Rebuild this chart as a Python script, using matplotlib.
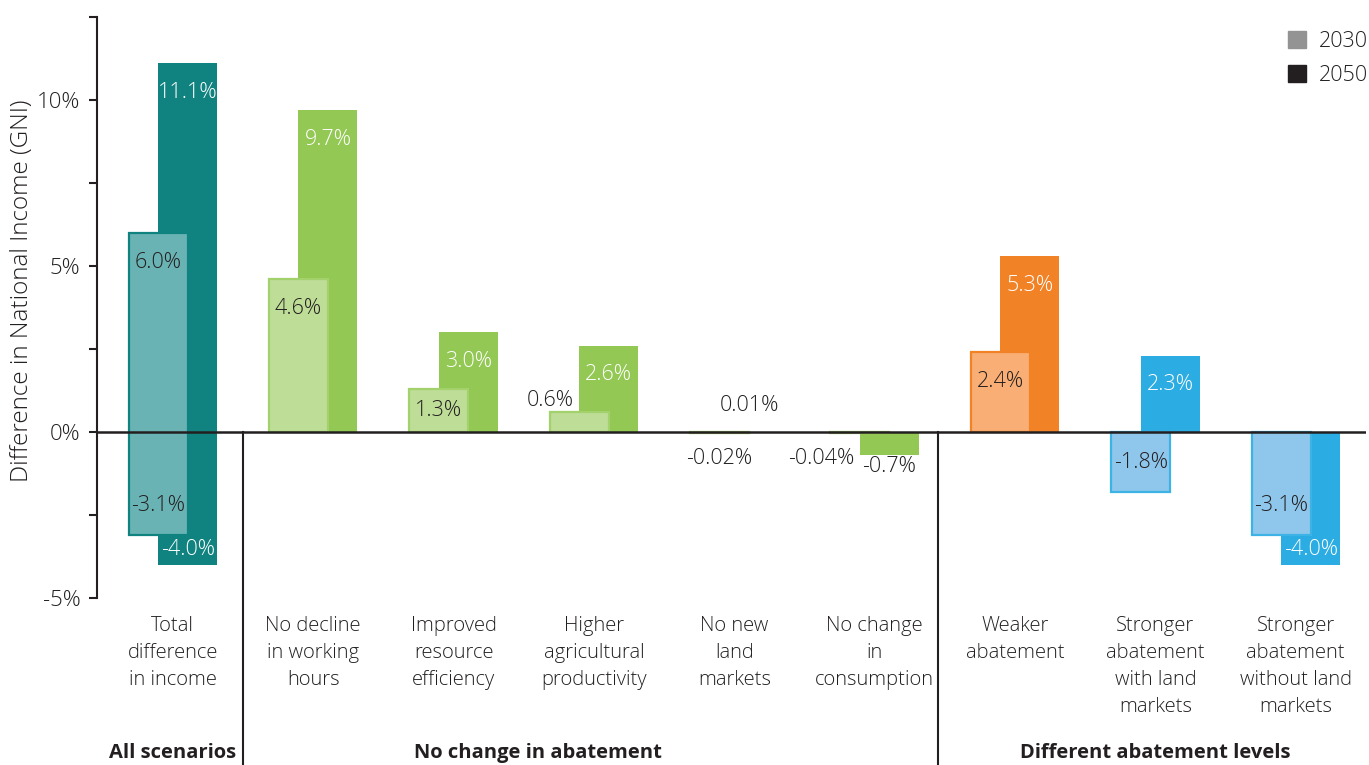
import matplotlib
matplotlib.use('Agg')
import matplotlib.pyplot as plt
from matplotlib.patches import Patch
import numpy as np

plt.rcParams['font.family'] = ['Open Sans', 'DejaVu Sans']
plt.rcParams['font.weight'] = 'light'

# Scenarien und Werte (in % des GNI)
categories = ['Total\ndifference\nin income', 'No decline\nin working\nhours',
              'Improved\nresource\nefficiency', 'Higher\nagricultural\nproductivity',
              'No new\nland\nmarkets', 'No change\nin\nconsumption',
              'Weaker\nabatement', 'Stronger\nabatement\nwith land\nmarkets',
              'Stronger\nabatement\nwithout land\nmarkets']

hi_2030 = [6.0, 4.6, 1.3, 0.6, 0, 0, 2.4, 0, 0]
lo_2030 = [-3.1, 0, 0, 0, -0.02, -0.04, 0, -1.8, -3.1]
hi_2050 = [11.1, 9.7, 3.0, 2.6, 0.01, 0, 5.3, 2.3, 0]
lo_2050 = [-4.0, 0, 0, 0, 0, -0.7, 0, 0, -4.0]

groups = ['All scenarios', 'No change in abatement', 'Different abatement levels']
group_x = [0, 2.6, 7]
separators = [0.5, 5.45]

# Farben: (2050, 2030 Fuellung, 2030 Rand)
teal = ('#10827F', '#6AB3B4', '#10827F')
green = ('#92C853', '#BEDD97', '#A3D16C')
orange = ('#F28226', '#F8AE74', '#F28226')
blue = ('#2BACE2', '#8FC7EC', '#3DB2E4')
colors = [teal, green, green, green, green, green, orange, blue, blue]
dark = '#231F20'

x = np.arange(len(categories))
w = 0.42
off = 0.105

fig = plt.figure(figsize=(13.69, 7.65), dpi=100)
ax = fig.add_axes([97 / 1369, 167 / 765, 1269 / 1369, 581 / 765])

hi30 = np.array(hi_2030); lo30 = np.array(lo_2030)
hi50 = np.array(hi_2050); lo50 = np.array(lo_2050)

ax.bar(x + off, hi50 - lo50, bottom=lo50, width=w,
       color=[c[0] for c in colors], zorder=2)
ax.bar(x - off, hi30 - lo30, bottom=lo30, width=w,
       color=[c[1] for c in colors], edgecolor=[c[2] for c in colors],
       linewidth=1.6, zorder=3)

ax.axhline(0, color=dark, lw=1.8, zorder=5)


def fmt(v):
    return ('%.2f%%' % v) if abs(v) < 0.1 else ('%.1f%%' % v)


def label(i, v, is30):
    if v == 0:
        return
    s = 1 if v > 0 else -1
    xc = i - off if is30 else i + off
    fs = 15.5
    if abs(v) >= 1:
        y = v - s * 0.88
        if abs(v) < 1.76:
            y = v / 2
        if not is30:
            e = hi30[i] if s > 0 else lo30[i]
            if abs(y) < abs(e) + 0.45:
                y = (v + e) / 2
        ax.text(xc, y, fmt(v), ha='center', va='center', fontsize=fs,
                color=dark if is30 else 'white', zorder=6)
    else:
        y = s * max(abs(v) + 0.35, 0.8)
        other = hi50[i] if s > 0 else lo50[i]
        if is30 and abs(other) > abs(v):
            ax.text(i + off - w / 2 - 0.04, y, fmt(v), ha='right', va='center',
                    fontsize=fs, color=dark, zorder=6)
        else:
            ax.text(xc, y, fmt(v), ha='center', va='center', fontsize=fs,
                    color=dark, zorder=6)


for i in x:
    label(i, hi30[i], True); label(i, lo30[i], True)
    label(i, hi50[i], False); label(i, lo50[i], False)

ax.set_xlim(-0.54, 8.5)
ax.set_ylim(-5, 12.5)
ax.set_yticks([-5, 0, 5, 10])
ax.set_yticklabels(['-5%', '0%', '5%', '10%'])
ax.set_yticks([-2.5, 2.5, 7.5, 12.5], minor=True)
ax.tick_params(axis='y', which='both', direction='out', length=6, width=1.5,
               colors=dark, labelsize=16, pad=6)
ax.set_xticks([])
for sp in ['top', 'right', 'bottom']:
    ax.spines[sp].set_visible(False)
ax.spines['left'].set_linewidth(1.5)
ax.spines['left'].set_color(dark)

for sx in separators:
    ax.plot([sx, sx], [0, -10.3], color=dark, lw=1.5, clip_on=False, zorder=5)

for i, c in enumerate(categories):
    ax.text(i, -5.55, c, ha='center', va='top', fontsize=14.5, color=dark,
            linespacing=1.47, clip_on=False)

for gx, g in zip(group_x, groups):
    ax.text(gx, -9.67, g, ha='center', va='center', fontsize=14.5,
            fontweight='bold', color=dark, clip_on=False)

fig.text(22 / 1369, 1 - 291 / 765, 'Difference in National Income (GNI)',
         rotation=90, ha='center', va='center', fontsize=17.5, color=dark)

handles = [Patch(color='#939393', label='2030'), Patch(color=dark, label='2050')]
ax.legend(handles=handles, loc='upper right', bbox_to_anchor=(1368 / 1369, 1 - 31 / 765),
          bbox_transform=fig.transFigure, frameon=False, handlelength=0.85,
          handleheight=0.85, handletextpad=0.6, labelspacing=0.6, fontsize=15.5,
          borderaxespad=0, borderpad=0, labelcolor=dark)

fig.savefig('out.png', dpi=100)
